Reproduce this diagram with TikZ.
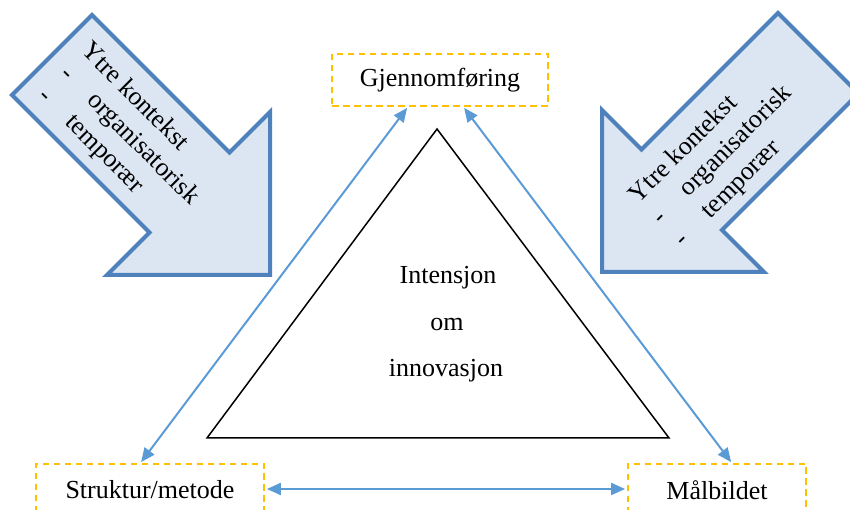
\documentclass[tikz,border=0pt]{standalone}
\usepackage{fontspec}
\setmainfont{Liberation Serif}
\usetikzlibrary{arrows.meta,calc}

\definecolor{arrowfill}{RGB}{220,230,242}
\definecolor{arrowline}{RGB}{79,129,189}
\definecolor{linkblue}{RGB}{91,155,213}
\definecolor{boxgold}{RGB}{255,192,0}

\tikzset{
  bigarrow/.style={fill=arrowfill, draw=arrowline, line width=4pt, line join=miter},
  label/.style={font=\fontsize{26}{31}\selectfont, inner sep=0pt},
  arrowtext/.style={label, anchor=base west, transform shape},
  dashbox/.style={label, draw=boxgold, line width=1.8pt, dash pattern=on 6.5pt off 4.5pt, minimum height=52pt},
  link/.style={draw=linkblue, line width=2pt, {Triangle[length=14pt,width=12pt]}-{Triangle[length=14pt,width=12pt]}},
  core/.style={draw=black, line width=1.5pt, line join=miter}
}

\begin{document}
\begin{tikzpicture}[x=1pt, y=1pt]
  \useasboundingbox (0,0) rectangle (850,510);
  \clip (0,0) rectangle (850,510);

  % outer context arrow, upper left, pointing down-right
  \draw[bigarrow] (92,495) -- (229.5,357.5) -- (270,398) -- (270,235)
    -- (107,235) -- (149.5,277.5) -- (12,415) -- cycle;
  \begin{scope}[shift={(0,510)}, rotate=-45]
    \node[arrowtext] (lk1) at (93,20) {Ytre kontekst};
    \node[arrowtext] (ld2) at (95,-11) {-};
    \node[arrowtext] (lt2) at (133,-11) {organisatorisk};
    \node[arrowtext] (ld3) at (95,-42) {-};
    \node[arrowtext] (lt3) at (133,-42) {temporær};
  \end{scope}

  % outer context arrow, upper right, pointing down-left
  \draw[bigarrow] (778,497) -- (858.5,416.5) -- (722,280) -- (764,238)
    -- (602,238) -- (602,400) -- (641.5,360.5) -- cycle;
  \begin{scope}[shift={(0,510)}, rotate=45]
    \node[arrowtext] (rk1) at (307,-596) {Ytre kontekst};
    \node[arrowtext] (rd2) at (308,-627) {-};
    \node[arrowtext] (rt2) at (347,-627) {organisatorisk};
    \node[arrowtext] (rd3) at (308,-658) {-};
    \node[arrowtext] (rt3) at (347,-658) {temporær};
  \end{scope}

  % central triangle
  \draw[core] (437,381) -- (669,72) -- (207,72) -- cycle;
  \node[label, anchor=base] (c1) at (448,226) {Intensjon};
  \node[label, anchor=base] (c2) at (447,179) {om};
  \node[label, anchor=base] (c3) at (446,133) {innovasjon};

  % corner boxes
  \node[dashbox, minimum width=216pt] (gj) at (440,430) {Gjennomføring};
  \node[dashbox, minimum width=228pt] (st) at (150,20) {Struktur/metode};
  \node[dashbox, minimum width=178pt] (mb) at (717,20) {Målbildet};

  % links between the boxes
  \draw[link] ($(gj.south west)+(76,-1)$) -- ($(st.north west)+(106,1)$);
  \draw[link] ($(gj.south west)+(133,-1)$) -- ($(mb.north west)+(104,1)$);
  \draw[link] ($(st.east)+(2,1)$) -- ($(mb.west)+(-2,1)$);
\end{tikzpicture}
\end{document}
